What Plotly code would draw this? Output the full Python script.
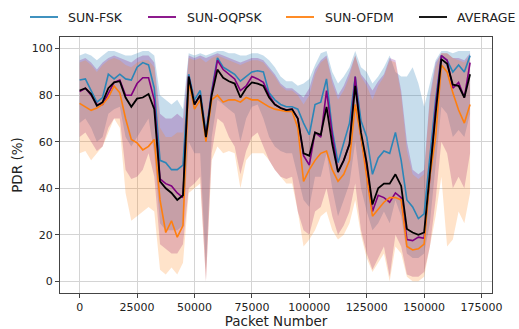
import numpy as np
import plotly.graph_objects as go

# Packet index at which each PDR sample is taken
packet = np.arange(0, 172500, 2500)

fsk = [86.5, 87, 82, 77, 79, 89, 87, 89, 87, 86.5, 92, 94, 93, 83,
       52, 51, 48, 48, 50, 89, 78, 82, 64, 82,
       96, 92, 90.5, 89, 86, 88, 90, 90.5,
       90, 81, 78, 76, 75, 75, 74, 68, 63, 76,
       77, 87, 65, 51, 60, 68, 88, 69, 62, 46, 53, 56,
       55, 64, 52, 35, 32, 27, 29, 53, 78,
       97, 95, 90, 93, 90, 97]
fsk_lo = [68, 70, 66, 60, 62, 72, 74, 75, 62, 58, 62, 66, 70, 55,
          25, 22, 22, 22, 24, 60, 55, 55, 5, 62,
          78, 76, 74, 72, 60, 70, 75, 76,
          70, 62, 58, 56, 55, 55, 45, 35, 32, 45,
          45, 55, 40, 28, 35, 42, 60, 40, 30, 22, 25, 30,
          25, 35, 28, 12, 10, 10, 12, 25, 50,
          75, 72, 62, 65, 62, 72]
fsk_hi = [97, 98, 97, 95, 97, 99, 99, 98, 97, 97, 98, 99, 99, 97,
          80, 78, 76, 78, 74, 98, 97, 98, 97, 98,
          99, 99, 98, 98, 97, 97, 98, 98,
          97, 95, 92, 88, 86, 86, 84, 85, 87, 93,
          98, 99, 90, 85, 88, 92, 99, 92, 90, 85, 88, 92,
          97, 90, 88, 88, 92, 85, 75, 85, 95,
          99, 99, 98, 99, 99, 99]

oqpsk = [81.5, 83, 80, 76, 76, 81, 85.5, 86.5, 80, 80, 85, 87.5, 87.5, 78,
         44, 42, 41, 38, 36, 88, 76, 80, 62, 81,
         95, 91, 89, 87, 82, 84, 88, 87,
         85.5, 80, 76, 74.5, 73.6, 74, 70, 54, 50, 64,
         62, 82, 63, 47, 52, 59, 88, 62, 48, 30, 37, 36,
         34, 38, 36, 18, 17.5, 19, 18.5, 45, 75,
         97, 95, 83, 85.5, 79, 94]
oqpsk_lo = [62, 64, 60, 56, 58, 66, 70, 70, 48, 44, 45, 48, 55, 45,
            16, 14, 12, 12, 16, 40, 42, 45, 0, 55,
            70, 68, 62, 58, 46, 56, 62, 64,
            58, 52, 48, 45, 44, 45, 30, 22, 20, 30,
            32, 40, 28, 20, 24, 30, 42, 22, 12, 5, 10, 15,
            2, 20, 15, 3, 2, 2, 4, 15, 35,
            60, 55, 40, 45, 40, 55]
oqpsk_hi = [95, 96, 94, 91, 94, 96, 97, 96, 95, 94, 96, 97, 97, 94,
            72, 70, 70, 72, 70, 97, 96, 97, 96, 97,
            98, 97, 96, 95, 94, 95, 96, 96,
            95, 92, 89, 85, 83, 83, 81, 79, 83, 91,
            95, 97, 87, 80, 84, 90, 97, 89, 86, 82, 86, 89,
            96, 95, 82, 60, 48, 46, 48, 80, 94,
            98, 98, 96, 96, 95, 98]

ofdm = [76.5, 75, 73.5, 74.5, 76, 79, 84, 81, 70, 61, 59.5, 56.5, 58, 61,
        35, 21, 26, 19, 24, 86, 74, 78, 60, 78,
        80, 77, 78, 78, 77, 79, 78, 78,
        76.6, 75, 74, 73.5, 73, 73, 66, 43, 48, 52,
        55, 56, 48, 43, 46, 52, 76, 62, 45, 28, 31, 34,
        36, 36, 35, 15, 13.5, 14, 16, 45, 62,
        93, 90, 81, 73.6, 68, 76]
ofdm_lo = [55, 56, 52, 55, 58, 64, 70, 66, 38, 26, 28, 30, 32, 30,
           5, 3, 6, 3, 8, 38, 40, 42, 0, 52,
           58, 55, 56, 55, 40, 52, 55, 55,
           55, 52, 48, 45, 42, 42, 30, 15, 18, 22,
           28, 30, 22, 18, 20, 25, 35, 20, 10, 4, 8, 12,
           0, 15, 12, 2, 0, 0, 2, 15, 28,
           45, 15, 18, 30, 25, 38]
ofdm_hi = [94, 95, 93, 90, 93, 95, 96, 95, 93, 92, 94, 95, 95, 92,
           66, 62, 62, 64, 64, 96, 95, 96, 94, 96,
           97, 96, 95, 94, 93, 94, 95, 95,
           94, 91, 88, 84, 82, 82, 80, 76, 80, 89,
           94, 96, 85, 78, 82, 88, 97, 88, 84, 78, 84, 88,
           95, 94, 80, 56, 46, 44, 46, 78, 92,
           98, 98, 96, 95, 94, 97]

average = [82, 83, 80.5, 75.5, 77, 83, 85.5, 86, 79, 75, 78.5, 79, 80.5, 74,
           43, 40, 38, 35, 37, 88, 76, 80, 62, 80,
           91, 87.5, 86, 85, 79, 83, 85.5, 85,
           84, 79, 76, 74.5, 73.6, 74, 70, 55, 54, 64,
           63, 75, 59, 47, 52, 59, 84, 64, 51, 33, 40, 42,
           42, 46, 41, 22.5, 21, 20, 21, 48, 72,
           95.5, 93.5, 84.5, 84, 79, 89]

series = [
    ("SUN-FSK", fsk, fsk_lo, fsk_hi, "#2b86b8", "rgba(31,119,180,0.25)"),
    ("SUN-OQPSK", oqpsk, oqpsk_lo, oqpsk_hi, "#800080", "rgba(128,0,128,0.24)"),
    ("SUN-OFDM", ofdm, ofdm_lo, ofdm_hi, "#ff7f0e", "rgba(255,127,14,0.22)"),
]
line_styles = [(s[0], s[4]) for s in series] + [("AVERAGE", "black")]

# Canvas geometry (pixels)
W, H = 519, 329
ML, MR, MT, MB = 60, 27, 37, 36
PW, PH = W - ML - MR, H - MT - MB

fig = go.Figure()
xs = list(packet)

# Variability bands first, so that every line sits above them
for name, mid, lo, hi, col, fillcol in series:
    fig.add_trace(go.Scatter(
        x=xs + xs[::-1], y=list(hi) + list(lo)[::-1],
        fill="toself", fillcolor=fillcol, line=dict(width=0),
        mode="lines", hoverinfo="skip", showlegend=False))

for name, mid, lo, hi, col, fillcol in series:
    fig.add_trace(go.Scatter(x=xs, y=mid, mode="lines", name=name,
                             line=dict(color=col, width=1.6)))

fig.add_trace(go.Scatter(x=xs, y=average, mode="lines", name="AVERAGE",
                         line=dict(color="black", width=1.8)))

# Legend row along the top edge: handle start and text start, in pixels
legend_handles = [30, 148, 286, 419]
legend_texts = [66, 185, 323, 455]
legend_y = 17
for (name, col), hx, tx in zip(line_styles, legend_handles, legend_texts):
    py = (H - MB - legend_y) / PH
    fig.add_shape(type="line", xref="paper", yref="paper",
                  x0=(hx - ML) / PW, x1=(hx + 28 - ML) / PW, y0=py, y1=py,
                  line=dict(color=col, width=1.8))
    fig.add_annotation(xref="paper", yref="paper", x=(tx - ML) / PW, y=py,
                       text=name, showarrow=False, xanchor="left", yanchor="middle",
                       font=dict(family="DejaVu Sans", size=12.5, color="#222"))

axis_common = dict(
    showgrid=True, gridcolor="#d4d4d4", gridwidth=1,
    showline=True, linecolor="#444", linewidth=1, mirror=True,
    ticks="outside", ticklen=4, tickcolor="#444",
    tickfont=dict(family="DejaVu Sans", size=11, color="#222"),
    zeroline=False, automargin=False,
)

fig.update_layout(
    width=W, height=H,
    margin=dict(l=ML, r=MR, t=MT, b=MB),
    paper_bgcolor="white", plot_bgcolor="white",
    font=dict(family="DejaVu Sans", size=11, color="#222"),
    xaxis=dict(axis_common, range=[-8550, 179550], tickmode="array",
               tickvals=[0, 25000, 50000, 75000, 100000, 125000, 150000, 175000],
               ticktext=["0", "25000", "50000", "75000", "100000", "125000", "150000", "175000"],
               title=dict(text="Packet Number", font=dict(size=13.5), standoff=2)),
    yaxis=dict(axis_common, range=[-5, 105], tickvals=[0, 20, 40, 60, 80, 100],
               title=dict(text="PDR (%)", font=dict(size=13.5), standoff=6)),
    showlegend=False,
)

fig.write_html("out.html")
